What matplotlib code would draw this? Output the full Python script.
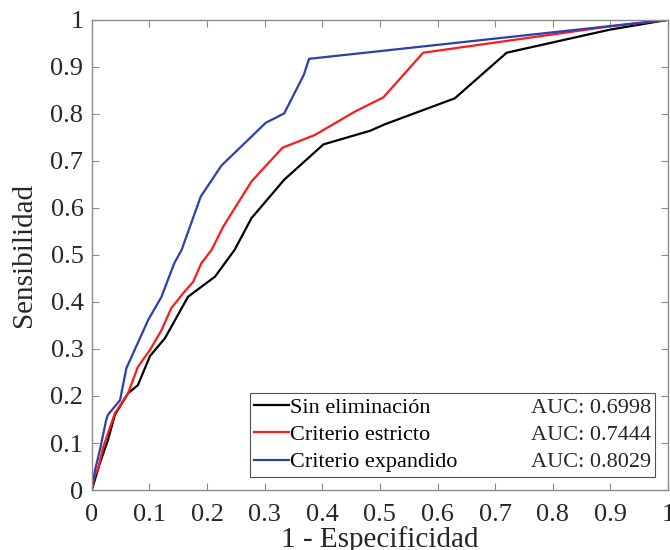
import matplotlib
matplotlib.use("Agg")
import matplotlib.pyplot as plt

plt.rcParams['font.family'] = ['Liberation Serif', 'DejaVu Serif']

# --- ROC data ---
fpr_sin = [0, 0.005, 0.014, 0.028, 0.040, 0.063, 0.080, 0.101, 0.127, 0.167, 0.214,
           0.248, 0.277, 0.334, 0.402, 0.483, 0.509, 0.630, 0.720, 0.899, 1]
tpr_sin = [0, 0.020, 0.057, 0.106, 0.160, 0.206, 0.223, 0.285, 0.323, 0.411, 0.454,
           0.511, 0.578, 0.660, 0.735, 0.764, 0.778, 0.833, 0.930, 0.979, 1]

fpr_estricto = [0, 0.005, 0.011, 0.020, 0.040, 0.063, 0.080, 0.101, 0.121, 0.138, 0.161,
                0.176, 0.190, 0.208, 0.228, 0.277, 0.331, 0.387, 0.457, 0.506, 0.575, 0.899, 1]
tpr_estricto = [0, 0.030, 0.046, 0.092, 0.163, 0.206, 0.262, 0.298, 0.340, 0.387, 0.422,
                0.443, 0.482, 0.511, 0.560, 0.656, 0.728, 0.755, 0.805, 0.835, 0.930, 0.986, 1]

fpr_expandido = [0, 0.005, 0.014, 0.025, 0.028, 0.049, 0.060, 0.098, 0.121, 0.143, 0.156,
                 0.189, 0.225, 0.302, 0.334, 0.368, 0.377, 1]
tpr_expandido = [0, 0.039, 0.085, 0.149, 0.160, 0.191, 0.259, 0.362, 0.411, 0.482, 0.511,
                 0.624, 0.690, 0.781, 0.801, 0.883, 0.917, 1]

labels = ["Sin eliminación", "Criterio estricto", "Criterio expandido"]
auc_values = ["0.6998", "0.7444", "0.8029"]
colors = ["black", "#ff1a1a", "#2b3fae"]
ticks = [0, 0.1, 0.2, 0.3, 0.4, 0.5, 0.6, 0.7, 0.8, 0.9, 1]
tick_labels = ["0", "0.1", "0.2", "0.3", "0.4", "0.5", "0.6", "0.7", "0.8", "0.9", "1"]

fig = plt.figure(figsize=(6.7, 5.5), dpi=100)
ax = fig.add_axes([0.137, 0.109, 0.86, 0.855])

curves = [(fpr_sin, tpr_sin), (fpr_estricto, tpr_estricto), (fpr_expandido, tpr_expandido)]
for (x, y), lab, c in zip(curves, labels, colors):
    ax.plot(x, y, color=c, lw=1.6, label=lab)

ax.set_xlim(0, 1)
ax.set_ylim(0, 1)
ax.set_xticks(ticks)
ax.set_xticklabels(tick_labels)
ax.set_yticks(ticks)
ax.set_yticklabels(tick_labels)
ax.tick_params(direction="in", top=True, right=True, length=5, width=0.8,
               color="#8c8c8c", labelsize=19, labelcolor="#262626")
ax.tick_params(axis="x", pad=10)
ax.tick_params(axis="y", pad=6)
for s in ax.spines.values():
    s.set_color("#8c8c8c")
    s.set_linewidth(1.0)

ax.set_xlabel("1 - Especificidad", fontsize=21, color="#262626", labelpad=0)
ax.set_ylabel("Sensibilidad", fontsize=21, color="#262626", labelpad=10)

leg = ax.legend(loc="lower left", bbox_to_anchor=(0.274, 0.028, 0.703, 0.174),
                mode="expand", fontsize=16, frameon=True, fancybox=False,
                edgecolor="#262626", handlelength=1.55, handletextpad=0.05,
                borderpad=0.2, labelspacing=0.3, borderaxespad=0)
leg.get_frame().set_linewidth(0.8)

# AUC values right-aligned inside the legend box, one per row
fig.canvas.draw()
box = leg.get_window_extent()
inv = ax.transAxes.inverted()
for t, auc in zip(leg.get_texts(), auc_values):
    bb = t.get_window_extent()
    xr, yc = inv.transform((box.x1 - 4, (bb.y0 + bb.y1) / 2))
    ax.text(xr, yc, "AUC: " + auc, transform=ax.transAxes, ha="right", va="center",
            fontsize=16, color="#262626", zorder=10)

fig.savefig("out.png", dpi=100)
